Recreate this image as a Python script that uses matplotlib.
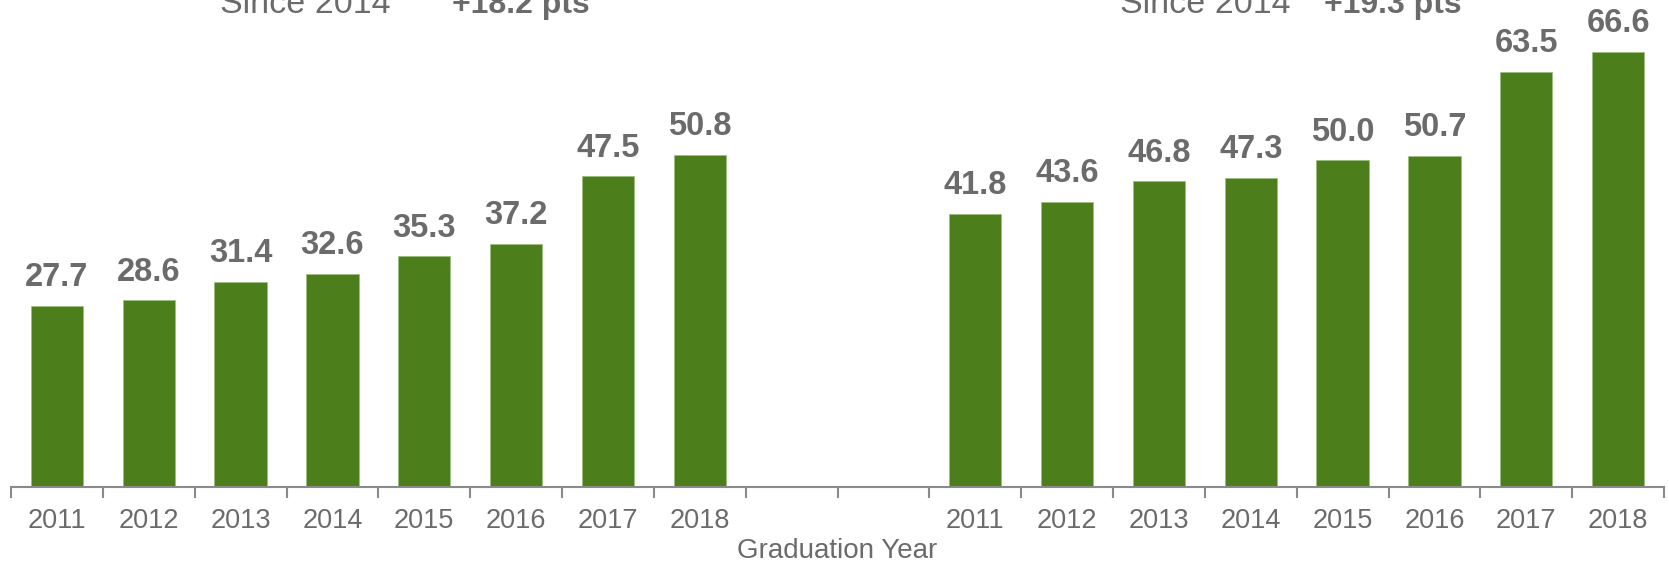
import matplotlib
matplotlib.use("Agg")
import matplotlib.pyplot as plt
import numpy as np

plt.rcParams["font.family"] = ["Liberation Sans", "DejaVu Sans"]

years = ["2011", "2012", "2013", "2014", "2015", "2016", "2017", "2018"]
left_values = [27.7, 28.6, 31.4, 32.6, 35.3, 37.2, 47.5, 50.8]
right_values = [41.8, 43.6, 46.8, 47.3, 50.0, 50.7, 63.5, 66.6]
left_change = "+18.2 pts"
right_change = "+19.3 pts"

BAR = "#4C7F1B"
GRAY = "#6B6B6B"

fig = plt.figure(figsize=(16.69, 5.63), dpi=100)
ax = fig.add_axes([11 / 1669, 76 / 563, 1653 / 1669, 487 / 563])

left_x = np.arange(len(years))
right_x = np.arange(len(years)) + 10

for xs, vals in ((left_x, left_values), (right_x, right_values)):
    bars = ax.bar(xs, vals, width=0.57, color=BAR, edgecolor="#9dbf80", linewidth=0.6)
    for b, v in zip(bars, vals):
        ax.annotate(f"{v:.1f}", (b.get_x() + b.get_width() / 2, v),
                    xytext=(0, 9), textcoords="offset points",
                    ha="center", va="bottom", fontsize=23.5,
                    fontweight="bold", color=GRAY)

ax.set_xlim(-0.5, 17.5)
ax.set_ylim(0, 74.5)

ax.set_xticks(list(left_x) + list(right_x))
ax.set_xticklabels(years + years, fontsize=19.5, color=GRAY)
ax.set_xticks(np.arange(-0.5, 18, 1.0), minor=True)
ax.tick_params(axis="x", which="major", length=0, pad=15)
ax.tick_params(axis="x", which="minor", length=8, width=1.5, color="#8a8a8a")
ax.set_yticks([])
for s in ("top", "right", "left"):
    ax.spines[s].set_visible(False)
ax.spines["bottom"].set_color("#8a8a8a")
ax.spines["bottom"].set_linewidth(1.5)

ax.set_xlabel("Graduation Year", fontsize=20, color=GRAY, labelpad=3)

# header text, partly cut at the top edge
ax.text(2.7, 72.5, "Since 2014", ha="center", va="baseline", fontsize=24.5,
        color=GRAY, clip_on=False)
ax.text(5.05, 72.5, left_change, ha="center", va="baseline", fontsize=23,
        fontweight="bold", color=GRAY, clip_on=False)
ax.text(12.5, 72.5, "Since 2014", ha="center", va="baseline", fontsize=24.5,
        color=GRAY, clip_on=False)
ax.text(14.55, 72.5, right_change, ha="center", va="baseline", fontsize=23,
        fontweight="bold", color=GRAY, clip_on=False)

fig.savefig("out.png", dpi=100)
